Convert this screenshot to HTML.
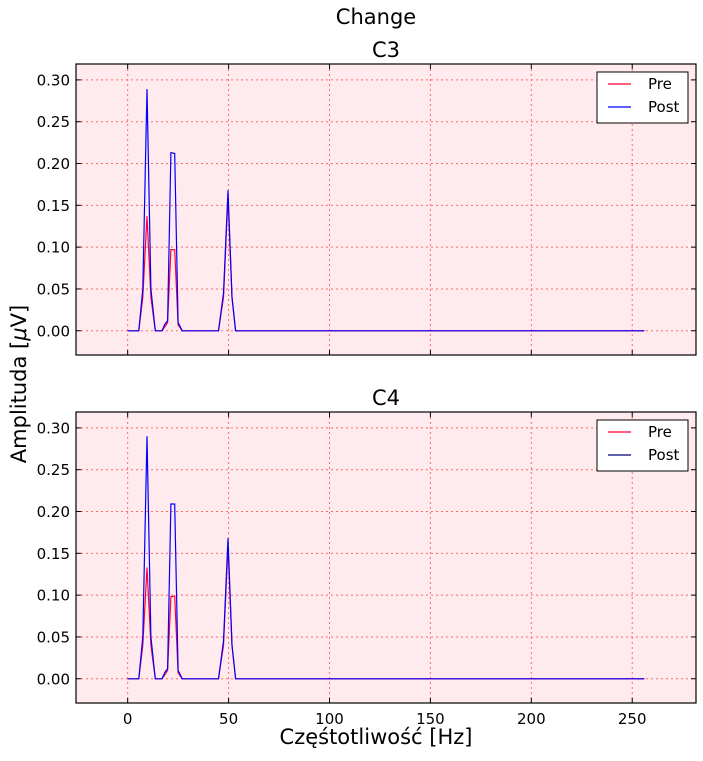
<!DOCTYPE html>
<html><head><meta charset="utf-8"><style>
body{margin:0;background:#fff;width:703px;height:756px;overflow:hidden}
svg{font-family:"DejaVu Sans","Liberation Sans",sans-serif}
</style></head><body>
<svg id="c" width="703" height="756" xmlns="http://www.w3.org/2000/svg">
<text x="376" y="24" font-size="21" text-anchor="middle">Change</text>
<text x="26" y="384" font-size="21" text-anchor="middle" transform="rotate(-90 26 384)">Amplituda [<tspan font-style="italic">μ</tspan>V]</text>
<text x="376" y="744" font-size="21" text-anchor="middle">Częśtotliwość [Hz]</text>
</svg>
<script>
const freqs=[0,5.5,7.5,9.6,11.5,13.7,17,18.5,19.8,21.4,23.3,25,27,45,47.5,49.7,51.7,53.5,256];
const c3Pre=[0,0,0.04,0.137,0.04,0,0,0.005,0.01,0.097,0.097,0.007,0,0,0.04,0.16,0.04,0,0];
const c3Post=[0,0,0.05,0.289,0.05,0,0,0.008,0.012,0.213,0.212,0.01,0,0,0.045,0.168,0.04,0,0];
const c4Pre=[0,0,0.04,0.133,0.04,0,0,0.005,0.01,0.098,0.099,0.007,0,0,0.04,0.158,0.04,0,0];
const c4Post=[0,0,0.05,0.29,0.05,0,0,0.008,0.012,0.209,0.209,0.01,0,0,0.045,0.168,0.04,0,0];
const xTicks=[0,50,100,150,200,250];
const yTicks=[0,0.05,0.1,0.15,0.2,0.25,0.3];
const NS="http://www.w3.org/2000/svg";
const svg=document.getElementById('c');
function mk(t,a,p){const e=document.createElementNS(NS,t);for(const k in a)e.setAttribute(k,a[k]);(p||svg).appendChild(e);return e;}
const L=76,R=696,xmin=-25.6,xmax=281.6,ymin=-0.029,ymax=0.319;
function X(v){return L+(v-xmin)/(xmax-xmin)*(R-L);}
function panel(top,bot,title,pre,post,showX,name){
  const Y=v=>bot-(v-ymin)/(ymax-ymin)*(bot-top);
  const g=mk('g',{});
  
  
  const bg=mk('rect',{x:L,y:top,width:R-L,height:bot-top,fill:'#ffebee'},g);
  
  
  xTicks.forEach(t=>{
    const l=mk('line',{x1:X(t),x2:X(t),y1:top,y2:bot,stroke:'#ff6b6b','stroke-dasharray':'2,3','stroke-width':1},g);
    
    
    mk('line',{x1:X(t),x2:X(t),y1:bot,y2:bot-5,stroke:'#000'},g);
    mk('line',{x1:X(t),x2:X(t),y1:top,y2:top+5,stroke:'#000'},g);
    if(showX){const tx=mk('text',{x:X(t),y:bot+21,'font-size':15,'text-anchor':'middle'},g);tx.textContent=t;
      
      }
  });
  yTicks.forEach(t=>{
    const l=mk('line',{x1:L,x2:R,y1:Y(t),y2:Y(t),stroke:'#ff6b6b','stroke-dasharray':'2,3','stroke-width':1},g);
    
    
    mk('line',{x1:L,x2:L+5,y1:Y(t),y2:Y(t),stroke:'#000'},g);
    mk('line',{x1:R,x2:R-5,y1:Y(t),y2:Y(t),stroke:'#000'},g);
    const tx=mk('text',{x:L-6,y:Y(t)+5.5,'font-size':15,'text-anchor':'end'},g);tx.textContent=t.toFixed(2);
    
    
  });
  const pts=a=>a.map((v,i)=>X(freqs[i]).toFixed(1)+','+Y(v).toFixed(1)).join(' ');
  const p1=mk('polyline',{points:pts(pre),fill:'none',stroke:'#ff0033','stroke-width':1.2},g);
  
  
  const p2=mk('polyline',{points:pts(post),fill:'none',stroke:'#0000ff','stroke-width':1.2},g);
  
  
  mk('rect',{x:L,y:top,width:R-L,height:bot-top,fill:'none',stroke:'#000','stroke-width':1.2},g);
  const tt=mk('text',{x:(L+R)/2,y:top-7,'font-size':21,'text-anchor':'middle'},g);tt.textContent=title;
  
  
  const lg=mk('g',{},g);
  
  
  mk('rect',{x:597,y:top+8,width:91,height:51,fill:'#fff',stroke:'#000'},lg);
  [['Pre','#ff0033',top+25],['Post',showX?'#000080':'#0000ff',top+48]].forEach(([n,c,yy])=>{
    const e=mk('g',{},lg);
    
    
    mk('line',{x1:608,x2:631,y1:yy-5,y2:yy-5,stroke:c,'stroke-width':1.2},e);
    const t=mk('text',{x:648,y:yy,'font-size':15},e);t.textContent=n;
  });
}
panel(64,355,'C3',c3Pre,c3Post,false,'c3-subplot');
panel(412,703,'C4',c4Pre,c4Post,true,'c4-subplot');
</script>
</body></html>
